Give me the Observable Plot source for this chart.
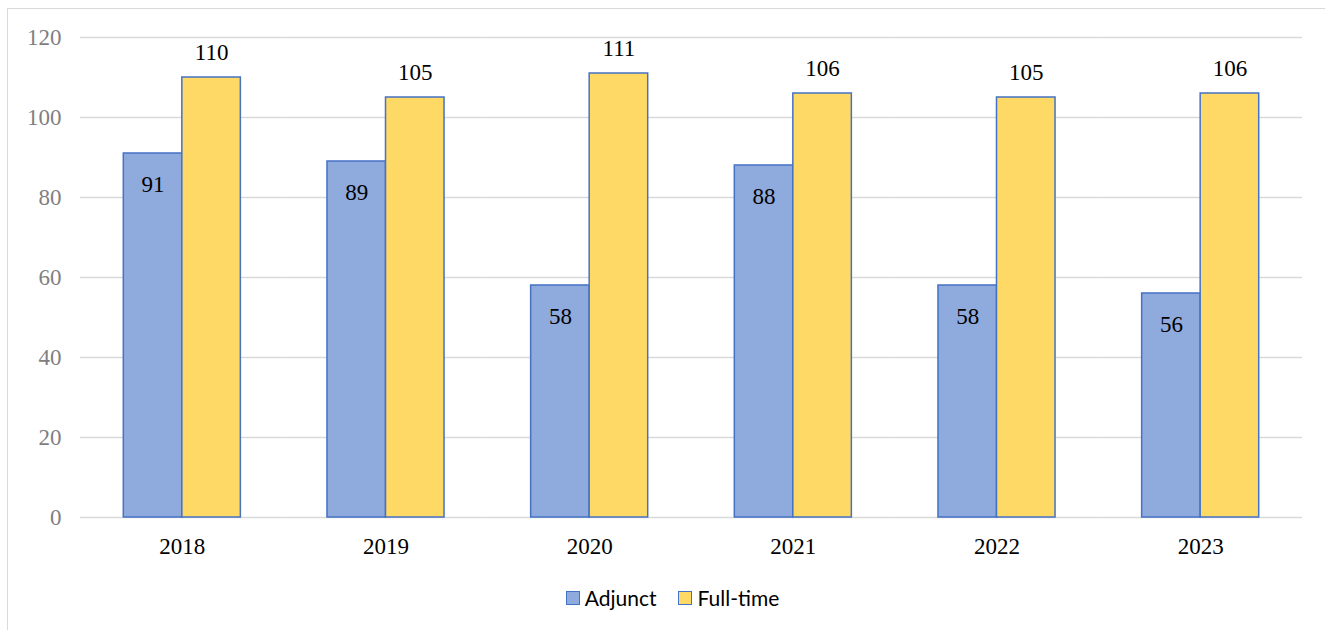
<!DOCTYPE html>
<html>
<head>
<meta charset="utf-8">
<script src="https://cdn.jsdelivr.net/npm/d3@7"></script>
<script src="https://cdn.jsdelivr.net/npm/@observablehq/plot@0.6"></script>
<style>
  html, body { margin: 0; padding: 0; background: #fff; overflow: hidden; }
  #frame { position: absolute; left: 7px; top: 8px; width: 1400px; height: 700px; border: 1px solid #d9d9d9; box-sizing: border-box; }
  #chart { position: absolute; left: 0; top: 0; }
  #chart svg text { font-family: "Liberation Serif", "Times New Roman", serif; }
  #legend { position: absolute; left: 10px; top: 585px; width: 1325px; display: flex; justify-content: center; gap: 22px; font-family: "Lato", "Open Sans", sans-serif; font-size: 21px; color: #000; }
  .item { display: flex; align-items: center; gap: 5px; }
  .sw { width: 12px; height: 12px; border: 1.5px solid #4472C4; }
</style>
</head>
<body>
<div id="frame"></div>
<div id="chart"></div>
<div id="legend"></div>
<script>
const years = ["2018", "2019", "2020", "2021", "2022", "2023"];
const series = ["Adjunct", "Full-time"];
const adjunct = [91, 89, 58, 88, 58, 56];
const fullTime = [110, 105, 111, 106, 105, 106];
const yTicks = [0, 20, 40, 60, 80, 100, 120];
const colors = ["#8FAADC", "#FFD966"];

const data = [];
years.forEach((yr, i) => {
  data.push({year: yr, series: series[0], value: adjunct[i]});
  data.push({year: yr, series: series[1], value: fullTime[i]});
});

const font = "'Liberation Serif', 'Times New Roman', serif";

const chart = Plot.plot({
  width: 1325,
  height: 570,
  marginLeft: 80,
  marginRight: 23,
  marginTop: 37,
  marginBottom: 53,
  style: {fontFamily: font, fontSize: "23px", background: "transparent"},
  fx: {domain: years, padding: 0, round: false, label: null, axis: null},
  x: {domain: series, paddingInner: 0, paddingOuter: 0.74, round: false, axis: null},
  y: {domain: [0, 120], ticks: yTicks, label: null, axis: null},
  color: {domain: series, range: colors},
  marks: [
    Plot.gridY(yTicks, {stroke: "#d9d9d9", strokeOpacity: 1, strokeWidth: 1.3}),
    Plot.axisY(yTicks, {tickSize: 0, tickPadding: 19, fill: "#7f7f7f", fontSize: 23, label: null, facetAnchor: "left"}),
    Plot.axisFx({tickSize: 0, tickPadding: 20, fill: "#000", fontSize: 23, label: null, anchor: "bottom"}),
    Plot.barY(data, {fx: "year", x: "series", y: "value", fill: "series", stroke: "#4472C4", strokeWidth: 1.5}),
    Plot.text(data.filter(d => d.series === "Full-time"), {fx: "year", x: "series", y: "value", text: d => String(d.value), dy: -25, fill: "#000", fontSize: 23, lineAnchor: "middle"}),
    Plot.text(data.filter(d => d.series === "Adjunct"), {fx: "year", x: "series", y: "value", text: d => String(d.value), dy: 31, fill: "#000", fontSize: 23, lineAnchor: "middle"})
  ]
});
document.getElementById("chart").appendChild(chart);

const legend = document.getElementById("legend");
series.forEach((s, i) => {
  const item = document.createElement("div");
  item.className = "item";
  const sw = document.createElement("div");
  sw.className = "sw";
  sw.style.background = colors[i];
  const lab = document.createElement("span");
  lab.textContent = s;
  item.appendChild(sw);
  item.appendChild(lab);
  legend.appendChild(item);
});
</script>
</body>
</html>
